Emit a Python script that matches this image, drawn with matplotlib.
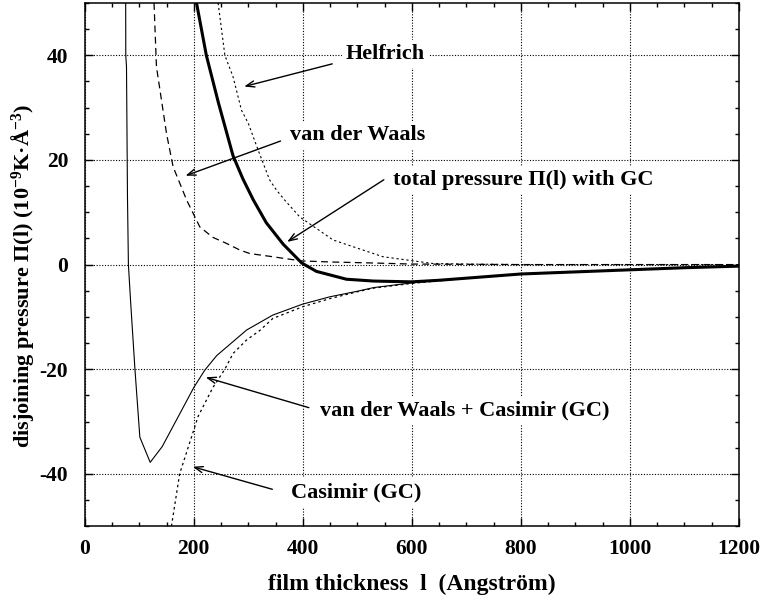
import numpy as np
import matplotlib
matplotlib.use('Agg')
import matplotlib.pyplot as plt
from matplotlib.ticker import MultipleLocator

plt.rcParams['font.family'] = ['Liberation Serif', 'DejaVu Serif']
plt.rcParams['font.weight'] = 'bold'
plt.rcParams['axes.unicode_minus'] = False
plt.rcParams['mathtext.fontset'] = 'custom'
plt.rcParams['mathtext.rm'] = 'Liberation Serif:bold'
plt.rcParams['mathtext.it'] = 'Liberation Serif:bold'
plt.rcParams['mathtext.bf'] = 'Liberation Serif:bold'

# curvas (l en Angstrom, presion en 1e-9 K/A^3)
x_vdw = [127, 131.5, 150, 162, 187, 211, 235, 260, 284, 303, 345, 364, 398, 450, 530, 600, 700, 800, 1000, 1200]
y_vdw = [50, 37.8, 25, 18.7, 12.3, 7.2, 5.2, 4.05, 2.8, 2.1, 1.5, 1.2, 0.7, 0.5, 0.3, 0.1, 0.05, 0, 0, 0]

x_helf = [244.6, 257, 272, 287.5, 300, 318, 339, 352, 367, 394.5, 455.6, 547, 639, 700, 800, 1200]
y_helf = [50, 40, 35.9, 29.5, 27, 21.9, 16.2, 14.2, 12.3, 9.1, 4.7, 1.5, 0.2, 0.1, 0, 0]

x_total = [205, 223, 245, 272, 290, 309, 333, 364, 398, 425, 480, 530, 600, 650, 700, 800, 900, 1000, 1100, 1200]
y_total = [50, 40, 31.0, 20.8, 16.4, 12.4, 8.0, 3.9, 0.3, -1.3, -2.8, -3.15, -3.3, -3.0, -2.6, -1.8, -1.4, -1.0, -0.6, -0.3]

x_vdwcas = [75, 75.2, 76.5, 78.3, 80, 84, 92, 101, 120, 142, 200, 220, 242, 297, 345, 400, 450, 500, 530, 600, 650,
            700, 800, 900, 1000, 1100, 1200]
y_vdwcas = [50, 40, 37.8, 13, 0, -7, -20, -33, -37.8, -34.8, -23.5, -20.2, -17.4, -12.5, -9.65, -7.55, -6.15, -5.1,
            -4.4, -3.5, -3.0, -2.6, -1.8, -1.4, -1.0, -0.6, -0.3]

x_cas = [159, 174, 196, 208, 235, 257, 272, 297, 321, 345, 400, 450, 500, 530, 600, 650, 700, 800, 900, 1000, 1100, 1200]
y_cas = [-50, -40, -32.9, -29, -23.5, -20, -17, -14.4, -12.6, -10.3, -8.05, -6.5, -5.2, -4.5, -3.6, -3.1,
         -2.6, -1.8, -1.4, -1.0, -0.6, -0.3]

# etiquetas: texto, posicion del texto, cola y punta de la flecha
etiquetas = ['Helfrich', 'van der Waals', 'total pressure \u03a0(l) with GC',
             'van der Waals + Casimir (GC)', 'Casimir (GC)']
pos_texto = [(479, 40.3), (376, 24.8), (566, 16.2), (431, -27.8), (379, -43.6)]
cola = [(459, 38.5), (364, 23.8), (553, 16.5), (416, -27.5), (349, -43.1)]
punta = [(287.5, 33.9), (180, 16.8), (367, 4.05), (217, -21.4), (193, -38.5)]

fig = plt.figure(figsize=(7.64, 6.02), dpi=100)
ax = fig.add_axes([0.111, 0.126, 0.856, 0.869])

ax.plot(x_vdw, y_vdw, color='black', lw=0.9, dashes=(5.5, 3.5))
ax.plot(x_helf, y_helf, color='black', lw=0.8, dashes=(2, 2.5))
ax.plot(x_cas, y_cas, color='black', lw=0.9, dashes=(2, 2.5))
ax.plot(x_vdwcas, y_vdwcas, color='black', lw=0.8)
ax.plot(x_total, y_total, color='black', lw=2.2)

ax.set_xlim(0, 1200)
ax.set_ylim(-50, 50)
ax.xaxis.set_major_locator(MultipleLocator(200))
ax.xaxis.set_minor_locator(MultipleLocator(50))
ax.yaxis.set_major_locator(MultipleLocator(20))
ax.yaxis.set_minor_locator(MultipleLocator(5))
ax.tick_params(which='both', direction='in', top=True, right=True, width=1)
ax.tick_params(which='major', length=5.5, labelsize=15.5)
ax.tick_params(axis='x', which='major', pad=9)
ax.tick_params(axis='y', which='major', pad=12)
ax.tick_params(which='minor', length=3)
for s in ax.spines.values():
    s.set_linewidth(1.1)
ax.grid(True, which='major', color='black', lw=0.8, linestyle=(0, (1, 1.5)))

for txt, p, c, h in zip(etiquetas, pos_texto, cola, punta):
    ax.text(p[0], p[1], txt, fontsize=16, fontweight='bold', ha='left', va='center',
            bbox=dict(facecolor='white', edgecolor='none', pad=3))
    ax.annotate('', xy=h, xytext=c,
                arrowprops=dict(arrowstyle='->,head_length=0.6,head_width=0.22', color='black', lw=1))

ax.set_xlabel('film thickness  l  (Angstr\u00f6m)', fontsize=17, fontweight='bold', labelpad=11)
ax.set_ylabel('disjoining pressure \u03a0(l) (10$^{-9}$K\u00b7\u00c5$^{-3}$)', fontsize=16, fontweight='bold')
ax.yaxis.set_label_coords(-0.074, 0.478)

fig.savefig('out.png', dpi=100)
